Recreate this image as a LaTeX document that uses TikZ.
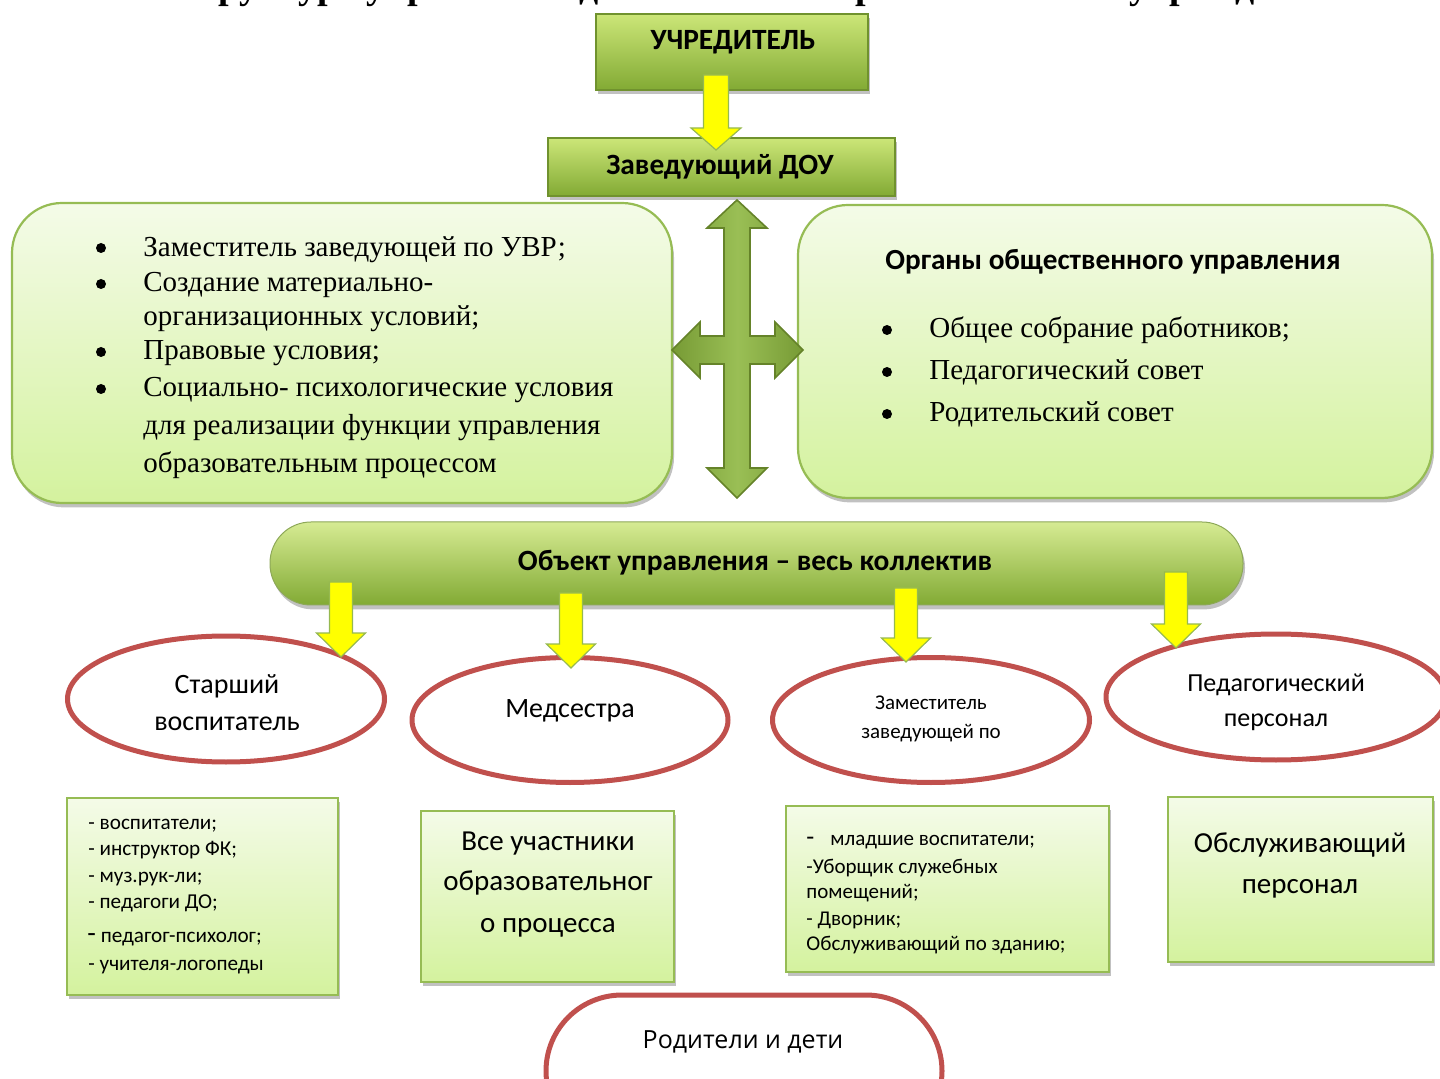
\documentclass[tikz,border=0pt]{standalone}
\usepackage{fontspec}
\setmainfont{Liberation Serif}
\newfontfamily\calib{Carlito}
\newfontfamily\osans{Open Sans}
\usetikzlibrary{shapes.geometric,shadows}

\definecolor{gtop}{RGB}{204,230,120}
\definecolor{gmid}{RGB}{160,198,72}
\definecolor{gbot}{RGB}{130,170,52}
\definecolor{gborder}{RGB}{112,146,46}
\definecolor{lbtop}{RGB}{244,251,232}
\definecolor{lbbot}{RGB}{212,242,158}
\definecolor{lborder}{RGB}{150,188,84}
\definecolor{ered}{RGB}{192,80,77}
\definecolor{yfill}{RGB}{255,255,0}
\definecolor{yborder}{RGB}{150,185,80}
\definecolor{xgreen}{RGB}{140,182,62}

\newcommand\yarr[7]{% name, x, ytop, ytip, shaft half, head half, head length
  \filldraw[yarrow] (#2-#5,#3) coordinate (#1) -- (#2+#5,#3) -- (#2+#5,#4-#7) -- (#2+#6,#4-#7)
    -- (#2,#4) -- (#2-#6,#4-#7) -- (#2-#5,#4-#7) -- cycle;}

\begin{document}
\begin{tikzpicture}[x=0.5pt,y=-0.5pt,
  shd/.style={drop shadow={shadow xshift=1pt,shadow yshift=-2.2pt,opacity=0.35,fill=black!70}},
  gbox/.style={draw=gborder,line width=0.6pt,top color=gtop,bottom color=gbot,shd,inner sep=0pt},
  pill/.style={draw=gborder!80,line width=0.5pt,top color=gtop!80!white,middle color=gmid,bottom color=gbot,
     rounded corners=20.5pt,shd,inner sep=0pt},
  lbox/.style={draw=lborder,line width=1.1pt,top color=lbtop,bottom color=lbbot,rounded corners=25pt,shd,inner sep=0pt},
  sbox/.style={draw=lborder,line width=1.1pt,top color=lbtop,bottom color=lbbot,shd,inner sep=0pt},
  ell/.style={ellipse,draw=ered,line width=2.5pt,fill=white,inner sep=0pt},
  yarrow/.style={fill=yfill,draw=yborder,line width=0.6pt,line join=miter},
  tx/.style={inner sep=0pt,anchor=base},
  txw/.style={inner sep=0pt,anchor=base west},
  hdr/.style={tx,font=\calib\bfseries\fontsize{14.7pt}{16pt}\selectfont},
  ser/.style={txw,font=\fontsize{14.5pt}{17pt}\selectfont},
  bul/.style={circle,fill=black,inner sep=0pt,minimum size=5pt},
  cal/.style={tx,font=\calib\fontsize{14pt}{16pt}\selectfont},
  small/.style={txw,font=\calib\fontsize{10.6pt}{12pt}\selectfont},
]
\useasboundingbox (0,0) rectangle (1440,1079);

% clipped title
\node[txw,font=\bfseries\fontsize{19pt}{22pt}\selectfont] (title) at (172,-1)
  {Структура управления дошкольного образовательного учреждения};

% top boxes
\node[gbox,minimum width=136pt,minimum height=38pt] (uch) at (732,52) {};
\node[hdr] (uchT) at (733,50) {УЧРЕДИТЕЛЬ};
\node[gbox,minimum width=173.5pt,minimum height=29pt] (zav) at (721.5,167) {};
\node[hdr] (zavT) at (720,175) {Заведующий ДОУ};
\yarr{a0}{716}{75}{150}{12.5}{25}{22}

% side boxes
\node[lbox,minimum width=330pt,minimum height=150pt] (left) at (342,353) {};
\node[lbox,minimum width=317pt,minimum height=146.5pt] (right) at (1115,351.5) {};

% left box text
\node[bul] (lb1) at (101,248) {};
\node[bul] (lb2) at (101,284) {};
\node[bul] (lb3) at (101,352) {};
\node[bul] (lb4) at (101,389) {};
\node[ser] (l1) at (143,257) {Заместитель заведующей по УВР;};
\node[ser] (l2) at (143,292) {Создание материально-};
\node[ser] (l3) at (143,326) {организационных условий;};
\node[ser] (l4) at (143,360) {Правовые условия;};
\node[ser] (l5) at (143,397) {Социально- психологические условия};
\node[ser] (l6) at (143,435) {для реализации функции управления};
\node[ser] (l7) at (143,473) {образовательным процессом};

% right box text
\node[txw,font=\calib\bfseries\fontsize{14.6pt}{16pt}\selectfont] (r0) at (885,270) {Органы общественного управления};
\node[bul] (rb1) at (887,330) {};
\node[bul] (rb2) at (887,372) {};
\node[bul] (rb3) at (887,414) {};
\node[ser] (r1) at (929,338) {Общее собрание работников;};
\node[ser] (r2) at (929,380) {Педагогический совет};
\node[ser] (r3) at (929,422) {Родительский совет};

% cross arrow
\filldraw[draw=gborder!90!black,line width=0.8pt,left color=xgreen!85!black,right color=xgreen!85!black,middle color=xgreen!88!white,line join=miter]
 (737,200) coordinate (xa) -- (767,228) -- (750,228) -- (750,336) -- (775,336) -- (775,322) -- (803,350)
 -- (775,378) -- (775,364) -- (750,364) -- (750,468) -- (767,468) -- (737,498) -- (707,468)
 -- (724,468) -- (724,364) -- (700,364) -- (700,378) -- (672,350) -- (700,322) -- (700,336)
 -- (724,336) -- (724,228) -- (707,228) -- cycle;

% object pill
\node[pill,minimum width=486.5pt,minimum height=41.5pt] (obj) at (756.5,563.5) {};
\node[hdr] (objT) at (755,571) {Объект управления – весь коллектив};

% ellipses
\node[ell,minimum width=158.5pt,minimum height=63pt] (e1) at (226,699) {};
\node[ell,minimum width=158pt,minimum height=62.5pt] (e2) at (570,720) {};
\node[ell,minimum width=158.5pt,minimum height=62.5pt] (e3) at (931,720) {};
\node[ell,minimum width=170pt,minimum height=63pt] (e4) at (1276,697) {};
\node[cal] (e1a) at (227,693) {Старший};
\node[cal] (e1b) at (227,730) {воспитатель};
\node[cal] (e2a) at (570,717) {Медсестра};
\node[tx,font=\calib\fontsize{10.5pt}{12pt}\selectfont] (e3a) at (931,709) {Заместитель};
\node[tx,font=\calib\fontsize{10.5pt}{12pt}\selectfont] (e3b) at (931,738) {заведующей по};
\node[tx,font=\calib\fontsize{13pt}{15pt}\selectfont] (e4a) at (1276,691) {Педагогический};
\node[tx,font=\calib\fontsize{13pt}{15pt}\selectfont] (e4b) at (1276,726) {персонал};

% yellow arrows from pill to ellipses
\yarr{a1}{341}{582}{657}{11.5}{24.5}{24}
\yarr{a2}{571}{593}{668}{11.5}{24.5}{24}
\yarr{a3}{906}{588}{662}{11.5}{24.5}{24}
\yarr{a4}{1176}{572}{648}{11.5}{24.5}{24}

% bottom boxes
\node[sbox,minimum width=135.5pt,minimum height=98.5pt] (b1) at (202.5,896.5) {};
\node[sbox,minimum width=126.5pt,minimum height=85.5pt] (b2) at (547.5,896.5) {};
\node[sbox,minimum width=161.5pt,minimum height=83pt] (b3) at (947.5,889) {};
\node[sbox,minimum width=132.5pt,minimum height=82.5pt] (b4) at (1300.5,879.5) {};

\node[small] (b1a) at (88,829) {- воспитатели;};
\node[small] (b1b) at (88,855) {- инструктор ФК;};
\node[small] (b1c) at (88,882) {- муз.рук-ли;};
\node[small] (b1d) at (88,908) {- педагоги ДО;};
\node[small] (b1e) at (87,942) {\fontsize{14pt}{12pt}\selectfont-\fontsize{10.6pt}{12pt}\selectfont\ педагог-психолог;};
\node[small] (b1f) at (88,970) {- учителя-логопеды};

\node[cal,font=\calib\fontsize{14.5pt}{16pt}\selectfont] (b2a) at (548,850) {Все участники};
\node[cal,font=\calib\fontsize{14.5pt}{16pt}\selectfont] (b2b) at (548,890) {образовательног};
\node[cal,font=\calib\fontsize{14.5pt}{16pt}\selectfont] (b2c) at (548,932) {о процесса};

\node[small,font=\calib\fontsize{10.5pt}{12pt}\selectfont] (b3a) at (806,845) {\fontsize{13pt}{12pt}\selectfont-\fontsize{10.5pt}{12pt}\selectfont\hspace{8pt}младшие воспитатели;};
\node[small,font=\calib\fontsize{10.5pt}{12pt}\selectfont] (b3b) at (806,873) {-Уборщик служебных};
\node[small,font=\calib\fontsize{10.5pt}{12pt}\selectfont] (b3c) at (806,898) {помещений;};
\node[small,font=\calib\fontsize{10.5pt}{12pt}\selectfont] (b3d) at (806,925) {- Дворник;};
\node[small,font=\calib\fontsize{10.5pt}{12pt}\selectfont] (b3e) at (806,950) {Обслуживающий по зданию;};

\node[cal,font=\calib\fontsize{14.5pt}{16pt}\selectfont] (b4a) at (1300,852) {Обслуживающий};
\node[cal,font=\calib\fontsize{14.5pt}{16pt}\selectfont] (b4b) at (1300,893) {персонал};

% parents and children
\node[draw=ered,line width=2.5pt,fill=white,rounded corners=38pt,minimum width=198pt,minimum height=76pt,inner sep=0pt] (rod) at (744,1071) {};
\node[tx,font=\osans\fontsize{12.5pt}{14pt}\selectfont] (rodT) at (743,1048) {Родители и дети};
\end{tikzpicture}
\end{document}
